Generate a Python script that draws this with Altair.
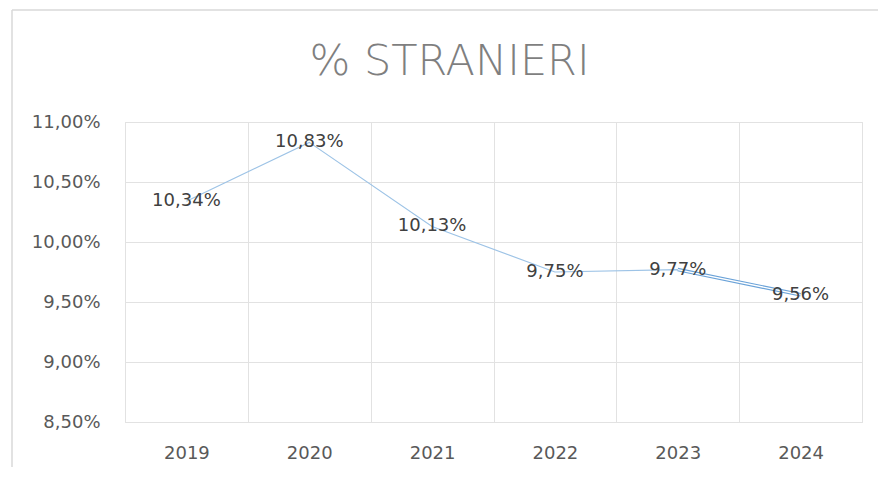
import altair as alt
import pandas as pd

years = ["2019", "2020", "2021", "2022", "2023", "2024"]
values = [10.34, 10.83, 10.13, 9.75, 9.77, 9.56]
y_ticks = [8.5, 9.0, 9.5, 10.0, 10.5, 11.0]
double_years = ["2023", "2024"]
title_text = "% STRANIERI"

df = pd.DataFrame({"year": years, "value": values})
df["label"] = [f"{v:.2f}".replace(".", ",") + "%" for v in values]
df_double = df[df["year"].isin(double_years)]

FONT = "DejaVu Sans"

x_enc = alt.X(
    "year:O",
    sort=years,
    scale=alt.Scale(type="band", paddingInner=0, paddingOuter=0),
    axis=alt.Axis(
        title=None, labelAngle=0, domain=False, ticks=False, grid=True,
        tickBand="extent", gridColor="#e2e2e2", gridWidth=1,
        labelFont=FONT, labelFontSize=18, labelColor="#595959", labelPadding=22,
    ),
)
y_enc = alt.Y(
    "value:Q",
    scale=alt.Scale(domain=[8.5, 11], nice=False, zero=False),
    axis=alt.Axis(
        title=None, values=y_ticks, domain=False, ticks=False, grid=True,
        gridColor="#e2e2e2", gridWidth=1,
        labelExpr="replace(format(datum.value, '.2f'), '.', ',') + '%'",
        labelFont=FONT, labelFontSize=18, labelColor="#595959", labelPadding=25,
    ),
)

base = alt.Chart(df).encode(x=x_enc, y=y_enc)
line = base.mark_line(color="#9dc3e6", strokeWidth=1.1)
dbl_outer = alt.Chart(df_double).mark_line(color="#6aa2d8", strokeWidth=3.6).encode(x=x_enc, y=y_enc)
dbl_inner = alt.Chart(df_double).mark_line(color="#ffffff", strokeWidth=1.4).encode(x=x_enc, y=y_enc)
labels = base.mark_text(font=FONT, fontSize=18, color="#404040", baseline="middle").encode(text="label:N")

one = pd.DataFrame({"k": [0]})
border_top = alt.Chart(one).mark_rule(color="#d9d9d9", strokeWidth=1.5).encode(
    x=alt.value(-113), x2=alt.value(760), y=alt.value(-112))
border_left = alt.Chart(one).mark_rule(color="#d9d9d9", strokeWidth=1.5).encode(
    x=alt.value(-113), y=alt.value(-112), y2=alt.value(360))

chart = alt.layer(border_top, border_left, line, dbl_outer, dbl_inner, labels).properties(
    width=737,
    height=300,
    title=alt.TitleParams(
        title_text, font=FONT, fontSize=43, fontWeight=200, color="#7f7f7f",
        anchor="middle", dx=-44, offset=-75,
    ),
    autosize=alt.AutoSizeParams(type="none"),
    padding={"left": 117, "top": 114, "right": 16, "bottom": 45},
).configure_view(strokeWidth=0).configure(background="#ffffff")

chart.save("out.html", embed_options={"renderer": "svg", "actions": False})
